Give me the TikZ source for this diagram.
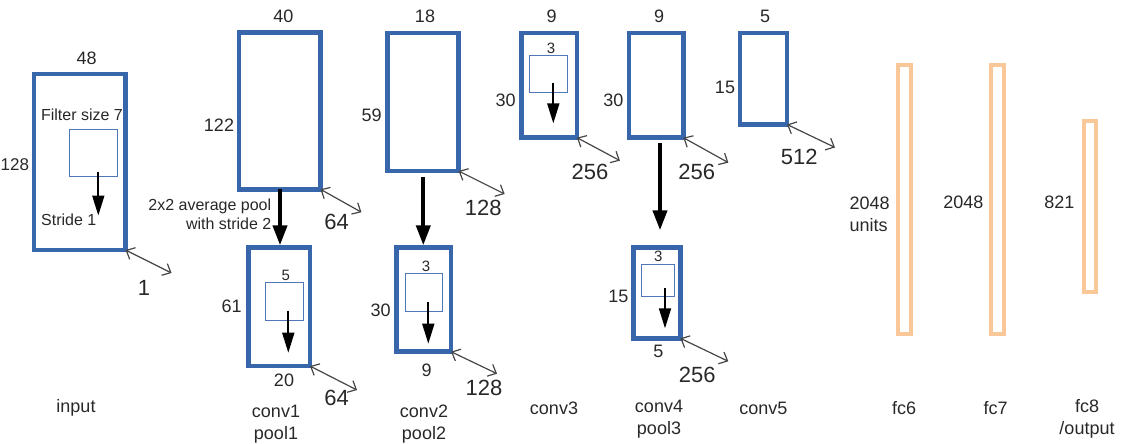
\documentclass[tikz,border=0pt]{standalone}
\usepackage{fontspec}
\setmainfont{Liberation Sans}
\usetikzlibrary{arrows.meta,calc}
\definecolor{boxblue}{RGB}{56,102,170}
\definecolor{filtblue}{RGB}{80,120,185}
\definecolor{fcorange}{RGB}{250,200,152}
\definecolor{txt}{RGB}{40,40,40}
\definecolor{dimgray}{RGB}{70,70,70}
\tikzset{
  fmap/.style={draw=boxblue, line width=4.5pt, inner sep=0pt, outer sep=0pt, rectangle},
  fcbox/.style={draw=fcorange, line width=4pt, inner sep=0pt, outer sep=0pt, rectangle},
  filt/.style={draw=filtblue, line width=1pt, inner sep=0pt, outer sep=0pt, rectangle},
  lbl/.style={font=\fontsize{18}{22}\selectfont, text=txt, inner sep=0pt, align=center},
  smalltxt/.style={font=\fontsize{16}{19}\selectfont, text=txt, inner sep=0pt, align=center},
  tinynum/.style={font=\fontsize{15}{18}\selectfont, text=txt, inner sep=0pt},
  bignum/.style={font=\fontsize{22}{26}\selectfont, text=txt, inner sep=0pt},
  poolarrow/.style={-{Triangle[length=20pt,width=14pt]}, line width=4pt, draw=black},
  stridearrow/.style={-{Triangle[length=20pt,width=12pt]}, line width=1.8pt, draw=black},
  dimarrow/.style={{Straight Barb[length=7pt,width=13pt]}-{Straight Barb[length=7pt,width=13pt]}, line width=1.2pt, draw=dimgray}
}
\begin{document}
\begin{tikzpicture}[x=1pt,y=-1pt]
\useasboundingbox (0,0) rectangle (1132,444);

% ---- input ----
\node[fmap, minimum width=91.5pt, minimum height=176pt] (in) at (79.8,162) {};
\node[filt, minimum width=48pt, minimum height=47pt] (fin) at (93.5,153) {};
\node[lbl] (in48) at (86.7,58) {48};
\node[lbl, anchor=west, font=\fontsize{17}{20}\selectfont] (in128) at (0.5,165) {128};
\node[smalltxt] (infs) at (82,115) {Filter size 7};
\node[smalltxt] (instr) at (68.7,220) {Stride 1};
\draw[stridearrow] ($(fin.south)+(4.8,-5)$) -- ++(0,44);
\draw[dimarrow] (in.south east) -- ++(46,23);
\node[bignum] (in1) at (144,288) {1};
\node[lbl] (inlab) at (76,408) {input};

% ---- conv1 ----
\node[fmap, minimum width=81.5pt, minimum height=156.5pt] (c1) at (279.7,111) {};
\node[lbl] (c1w) at (283.3,16.7) {40};
\node[lbl] (c1h) at (219,125) {122};
\draw[dimarrow] (c1.south east) -- ++(41,23);
\node[bignum] (c1d) at (336.7,221.7) {64};

% ---- pool1 ----
\node[fmap, minimum width=61.7pt, minimum height=118.7pt] (p1) at (279.2,306.7) {};
\node[filt, minimum width=38.3pt, minimum height=38pt] (fp1) at (284.2,301.7) {};
\node[tinynum] (p1f) at (285.7,275) {5};
\node[lbl] (p1h) at (231.7,306) {61};
\node[lbl] (p1w) at (284,380) {20};
\draw[stridearrow] ($(fp1.south)+(4.1,-10)$) -- ++(0,42);
\draw[dimarrow] (p1.south east) -- ++(47,24);
\node[bignum] (p1d) at (336.7,398.3) {64};
\node[lbl] (c1lab) at (276,424) {conv1\\pool1};

\draw[poolarrow] ($(c1.south)+(0.3,0)$) -- ($(c1.south |- p1.north)+(0.3,-2)$);
\node[smalltxt] (poolt1) at (209.8,206.7) {2x2 average pool};
\node[smalltxt] (poolt2) at (228.7,224) {with stride 2};

% ---- conv2 ----
\node[fmap, minimum width=71.3pt, minimum height=138pt] (c2) at (423,102) {};
\node[lbl] (c2w) at (425,16.7) {18};
\node[lbl] (c2h) at (371.7,115) {59};
\draw[dimarrow] (c2.south east) -- ++(46,23);
\node[bignum] (c2d) at (483.3,208.3) {128};

% ---- pool2 ----
\node[fmap, minimum width=54.5pt, minimum height=104.4pt] (p2) at (423.8,299.5) {};
\node[filt, minimum width=37.3pt, minimum height=38.3pt] (fp2) at (423.7,292.5) {};
\node[tinynum] (p2f) at (426,266.7) {3};
\node[lbl] (p2h) at (380.7,310) {30};
\node[lbl] (p2w) at (426.7,370) {9};
\draw[stridearrow] ($(fp2.south)+(4.6,-10)$) -- ++(0,42);
\draw[dimarrow] (p2.south east) -- ++(46,22);
\node[bignum] (p2d) at (484,388.3) {128};
\node[lbl] (c2lab) at (424,424) {conv2\\pool2};

\draw[poolarrow] ($(c2.south)+(0.3,6)$) -- ($(c2.south |- p2.north)+(0.3,-2)$);

% ---- conv3 ----
\node[fmap, minimum width=55.5pt, minimum height=104.7pt] (c3) at (549.2,85.3) {};
\node[filt, minimum width=37.7pt, minimum height=37.3pt] (fc3) at (548.8,73.7) {};
\node[tinynum] (c3f) at (551,48.3) {3};
\node[lbl] (c3w) at (551.7,16.7) {9};
\node[lbl] (c3h) at (505.7,100) {30};
\draw[stridearrow] ($(fc3.south)+(4.5,-9)$) -- ++(0,40);
\draw[dimarrow] (c3.south east) -- ++(43,23);
\node[bignum] (c3d) at (590,171.7) {256};
\node[lbl] (c3lab) at (554,408.3) {conv3};

% ---- conv4 ----
\node[fmap, minimum width=54.3pt, minimum height=104.7pt] (c4) at (656.2,85.3) {};
\node[lbl] (c4w) at (659,16.7) {9};
\node[lbl] (c4h) at (613.3,100) {30};
\draw[dimarrow] (c4.south east) -- ++(45,25);
\node[bignum] (c4d) at (696.7,171.7) {256};

% ---- pool3 ----
\node[fmap, minimum width=47pt, minimum height=91pt] (p3) at (656.8,292.8) {};
\node[filt, minimum width=32.6pt, minimum height=32.4pt] (fp3) at (658,280.5) {};
\node[tinynum] (p3f) at (658.3,256.7) {3};
\node[lbl] (p3h) at (618.3,296) {15};
\node[lbl] (p3w) at (658.3,351.7) {5};
\draw[stridearrow] ($(fp3.south)+(7,-8.4)$) -- ++(0,40);
\draw[dimarrow] (p3.south east) -- ++(48,23);
\node[bignum] (p3d) at (697.3,375) {256};
\node[lbl] (c4lab) at (659,419) {conv4\\pool3};

\draw[poolarrow] ($(c4.south)+(3.8,5.6)$) -- ($(c4.south |- p3.north)+(3.8,-17)$);

% ---- conv5 ----
\node[fmap, minimum width=47pt, minimum height=91.5pt] (c5) at (763.5,78.7) {};
\node[lbl] (c5w) at (765,16.7) {5};
\node[lbl] (c5h) at (725,87.3) {15};
\draw[dimarrow] (c5.south east) -- ++(48,23);
\node[bignum] (c5d) at (799.3,156.7) {512};
\node[lbl] (c5lab) at (763.3,408.3) {conv5};

% ---- fully connected ----
\node[fcbox, minimum width=13.3pt, minimum height=268.7pt] (fc6) at (904.7,199.7) {};
\node[fcbox, minimum width=12.7pt, minimum height=268.7pt] (fc7) at (997.3,199.7) {};
\node[fcbox, minimum width=12.7pt, minimum height=171pt] (fc8) at (1090,206.5) {};
\node[lbl, align=left, anchor=west] (fc6n) at (849.3,214) {2048\\units};
\node[lbl] (fc7n) at (963.3,202.7) {2048};
\node[lbl] (fc8n) at (1059.3,202.7) {821};
\node[lbl] (fc6lab) at (904,408.3) {fc6};
\node[lbl] (fc7lab) at (995.7,408.3) {fc7};
\node[lbl] (fc8lab) at (1087,419) {fc8\\/output};
\end{tikzpicture}
\end{document}
